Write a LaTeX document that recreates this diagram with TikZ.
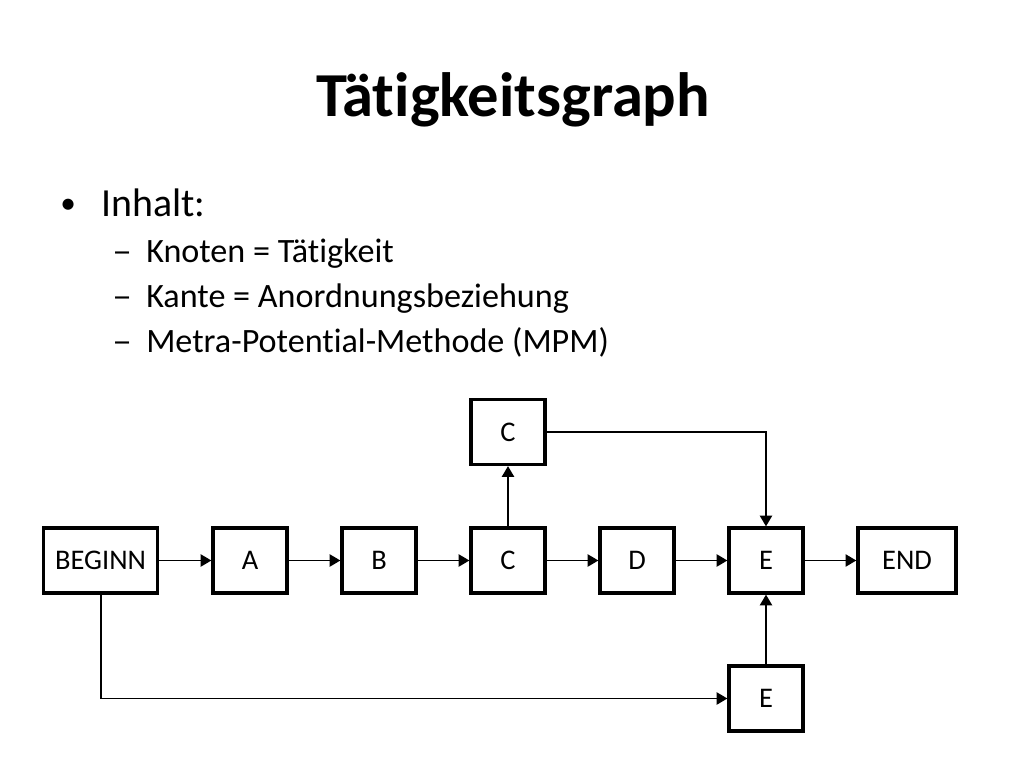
\documentclass[tikz,border=0pt]{standalone}
\usepackage{fontspec}
\setmainfont{Carlito}[Ligatures={NoCommon,NoContextual}]
\usetikzlibrary{arrows.meta}
\newcommand{\nolig}{\kern0pt }
\begin{document}
\begin{tikzpicture}[x=0.703125pt,y=-0.703125pt,
  box/.style={draw=black,line width=2.3pt,inner sep=0pt,minimum height=45.7pt,font=\fontsize{20}{24}\selectfont},
  conn/.style={draw=black,line width=1.3pt,-{Triangle[length=7.5pt,width=8.5pt]}},
  txt/.style={anchor=base west,inner sep=0pt}]
\useasboundingbox[fill=white] (0,0) rectangle (1024,768);
% title and bullets
\node[txt,font=\fontsize{44}{50}\selectfont\bfseries] (title) at (316,117) {Tät\nolig igkeit\nolig sgraph};
\node[txt,font=\fontsize{22}{26}\selectfont] (b1) at (60,214) {•};
\node[txt,font=\fontsize{28}{32}\selectfont] (l1) at (101,217) {Inhalt:};
\node[txt,font=\fontsize{24}{28}\selectfont\addfontfeature{FakeStretch=1.15}] (d1) at (112,263) {–};
\node[txt,font=\fontsize{24}{28}\selectfont] (l2) at (146,263) {Knoten = Tät\nolig igkeit};
\node[txt,font=\fontsize{24}{28}\selectfont\addfontfeature{FakeStretch=1.15}] (d2) at (112,307) {–};
\node[txt,font=\fontsize{24}{28}\selectfont] (l3) at (146,307) {Kante = Anordnungsbeziehung};
\node[txt,font=\fontsize{24}{28}\selectfont\addfontfeature{FakeStretch=1.15}] (d3) at (112,352) {–};
\node[txt,font=\fontsize{24}{28}\selectfont] (l4) at (146,352) {Metra-Potent\nolig ial-Methode (MPM)};
% boxes
\node[box,minimum width=80.3pt] (beg) at (100.6,560.5) {BEGINN};
\node[box,minimum width=52pt] (a) at (250,560.5) {A};
\node[box,minimum width=52pt] (b) at (379,560.5) {B};
\node[box,minimum width=52pt] (c) at (508,560.5) {C};
\node[box,minimum width=52pt] (d) at (637,560.5) {D};
\node[box,minimum width=52pt] (e) at (766,560.5) {E};
\node[box,minimum width=69pt] (end) at (907,560.5) {END};
\node[box,minimum width=52pt] (ct) at (508,432) {C};
\node[box,minimum width=52pt] (eb) at (766,698.5) {E};
% connectors
\draw[conn] (beg.east) -- (a.west);
\draw[conn] (a.east) -- (b.west);
\draw[conn] (b.east) -- (c.west);
\draw[conn] (c.east) -- (d.west);
\draw[conn] (d.east) -- (e.west);
\draw[conn] (e.east) -- (end.west);
\draw[conn] (c.north) -- (ct.south);
\draw[conn] (ct.east) -| (e.north);
\draw[conn] (eb.north) -- (e.south);
\draw[conn] (beg.south) |- (eb.west);
\end{tikzpicture}
\end{document}
